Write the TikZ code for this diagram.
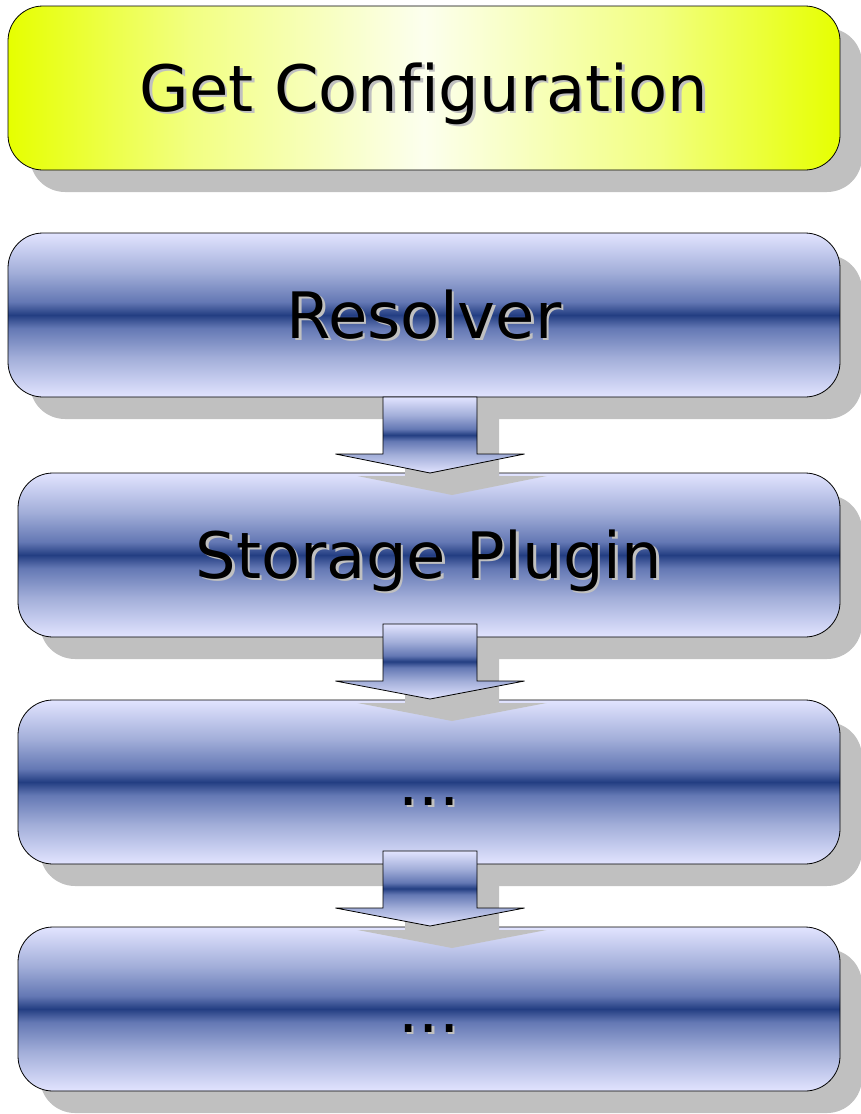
\documentclass[tikz,border=0pt]{standalone}
\usepackage{fontspec}
\setmainfont[Ligatures={NoCommon}]{DejaVu Sans}
\usetikzlibrary{shadows}
\definecolor{yl}{RGB}{230,255,0}
\definecolor{ym}{RGB}{242,255,130}
\definecolor{yc}{RGB}{252,255,238}
\definecolor{bl}{RGB}{226,228,255}
\definecolor{bm}{RGB}{162,174,217}
\definecolor{bn}{RGB}{100,120,180}
\definecolor{bd}{RGB}{35,62,130}
\definecolor{shd}{RGB}{192,192,192}
\pgfdeclarehorizontalshading{yellowband}{100bp}{color(0bp)=(yl); color(25bp)=(yl); color(36bp)=(ym); color(50bp)=(yc); color(64bp)=(ym); color(75bp)=(yl); color(100bp)=(yl)}
\pgfdeclareverticalshading{blueband}{100bp}{color(0bp)=(bl); color(25bp)=(bl); color(37bp)=(bm); color(46bp)=(bn); color(50bp)=(bd); color(54bp)=(bn); color(63bp)=(bm); color(75bp)=(bl); color(100bp)=(bl)}
\newcommand\shtext[1]{\rlap{\hspace{2.5pt}\raisebox{-2.5pt}{\textcolor{shd}{#1}}}#1}
\tikzset{
  boxshadow/.style={drop shadow={shadow xshift=22pt, shadow yshift=-22pt, opacity=1, fill=shd}},
  box/.style={draw=black, line width=0.8pt, rounded corners=35pt, inner sep=0pt,
    minimum height=164pt, text height=46.7pt, text depth=0pt,
    font=\fontsize{64}{64}\selectfont, boxshadow},
  yellowbox/.style={box, shade, shading=yellowband, minimum width=832pt},
  bluebox/.style={box, shade, shading=blueband},
  arrowbox/.style={draw=black, line width=0.8pt, shade, shading=blueband, boxshadow}
}
\newcommand\blockarrow[3]{%
  \draw[arrowbox] (383,#1) -- (477,#1) -- (477,#2) -- (524.5,#2) -- (430,#3)
    -- (335.5,#2) -- (383,#2) -- cycle;}
\begin{document}
\begin{tikzpicture}[x=1pt,y=-1pt]
\useasboundingbox (0,0) rectangle (861,1114);
\node[yellowbox] (cfg) at (424,88) {\shtext{Get Configuration}};
\node[bluebox, minimum width=832pt] (res) at (424,315) {\shtext{Resolver}};
\node[bluebox, minimum width=822pt] (sto) at (429,555) {\shtext{Storage Plugin}};
\node[bluebox, minimum width=822pt] (d1) at (429,782) {\shtext{...}};
\node[bluebox, minimum width=822pt] (d2) at (429,1009) {\shtext{...}};
\blockarrow{397}{454}{473}
\blockarrow{624}{681}{699}
\blockarrow{851}{908}{926}
\end{tikzpicture}
\end{document}
